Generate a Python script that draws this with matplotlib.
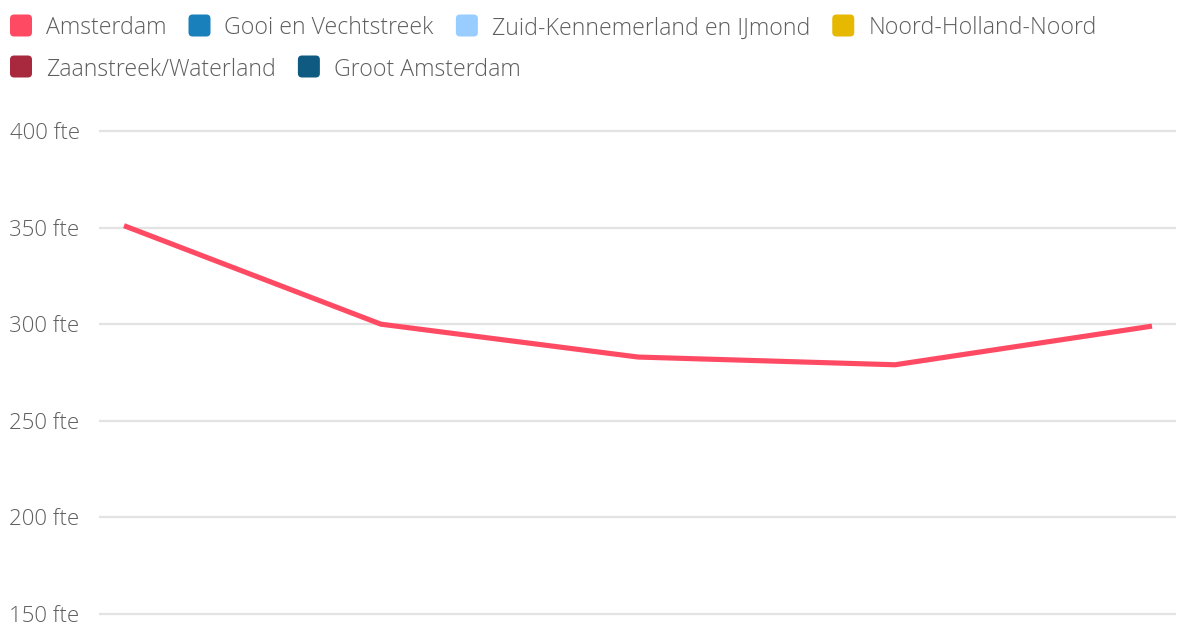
import matplotlib
matplotlib.use("Agg")
import matplotlib.pyplot as plt
from matplotlib.patches import FancyBboxPatch

series_names = ["Amsterdam", "Gooi en Vechtstreek", "Zuid-Kennemerland en IJmond",
                "Noord-Holland-Noord", "Zaanstreek/Waterland", "Groot Amsterdam"]
series_colors = ["#ff4a64", "#1a80bb", "#99ccff", "#e6b800", "#a8283e", "#0f5a80"]
periods = [0, 1, 2, 3, 4]
amsterdam = [351, 300, 283, 279, 299]
yticks = [150, 200, 250, 300, 350, 400]
ytick_labels = [f"{v} fte" for v in yticks]

W, H = 1180, 624
fig = plt.figure(figsize=(W / 100, H / 100), dpi=100)
font = "Open Sans"
txtcol = "#5e5e5e"

ax = fig.add_axes([99 / W, 0, (1176 - 99) / W, 1 - 125 / H])
ax.plot(periods, amsterdam, color=series_colors[0], lw=3.7, solid_capstyle="butt",
        solid_joinstyle="miter", zorder=3)
ax.set_xlim(-25 / 257, 4 + 24 / 257)
ax.set_ylim(150 - 10 / 1.932, 400 + 6 / 1.932)
ax.set_yticks(yticks)
ax.set_yticklabels(ytick_labels)
ax.set_xticks([])
for s in ax.spines.values():
    s.set_visible(False)
ax.tick_params(axis="y", length=0, pad=14, labelsize=16, labelcolor=txtcol)
for lab in ax.get_yticklabels():
    lab.set_fontfamily(font)
    lab.set_fontweight("light")
ax.grid(axis="y", color="#e3e3e3", lw=1.6)
ax.set_axisbelow(True)

# legend (manual)
rows = [[0, 1, 2, 3], [4, 5]]
row_y = [25.5, 66.5]
renderer = fig.canvas.get_renderer()
for r, idxs in enumerate(rows):
    x = 10
    for i in idxs:
        sz = 22
        y = row_y[r]
        p = FancyBboxPatch((x / W, 1 - (y + sz / 2) / H), sz / W, sz / H,
                           boxstyle="round,pad=0,rounding_size=0.0035",
                           transform=fig.transFigure, facecolor=series_colors[i],
                           edgecolor="none", mutation_aspect=W / H)
        fig.patches.append(p)
        t = fig.text((x + sz + 14) / W, 1 - y / H, series_names[i], fontsize=16.7,
                     color=txtcol, va="center_baseline", ha="left", family=font,
                     fontweight="light")
        bb = t.get_window_extent(renderer)
        x = bb.x1 + 22

fig.savefig("out.png", dpi=100, facecolor="white")
